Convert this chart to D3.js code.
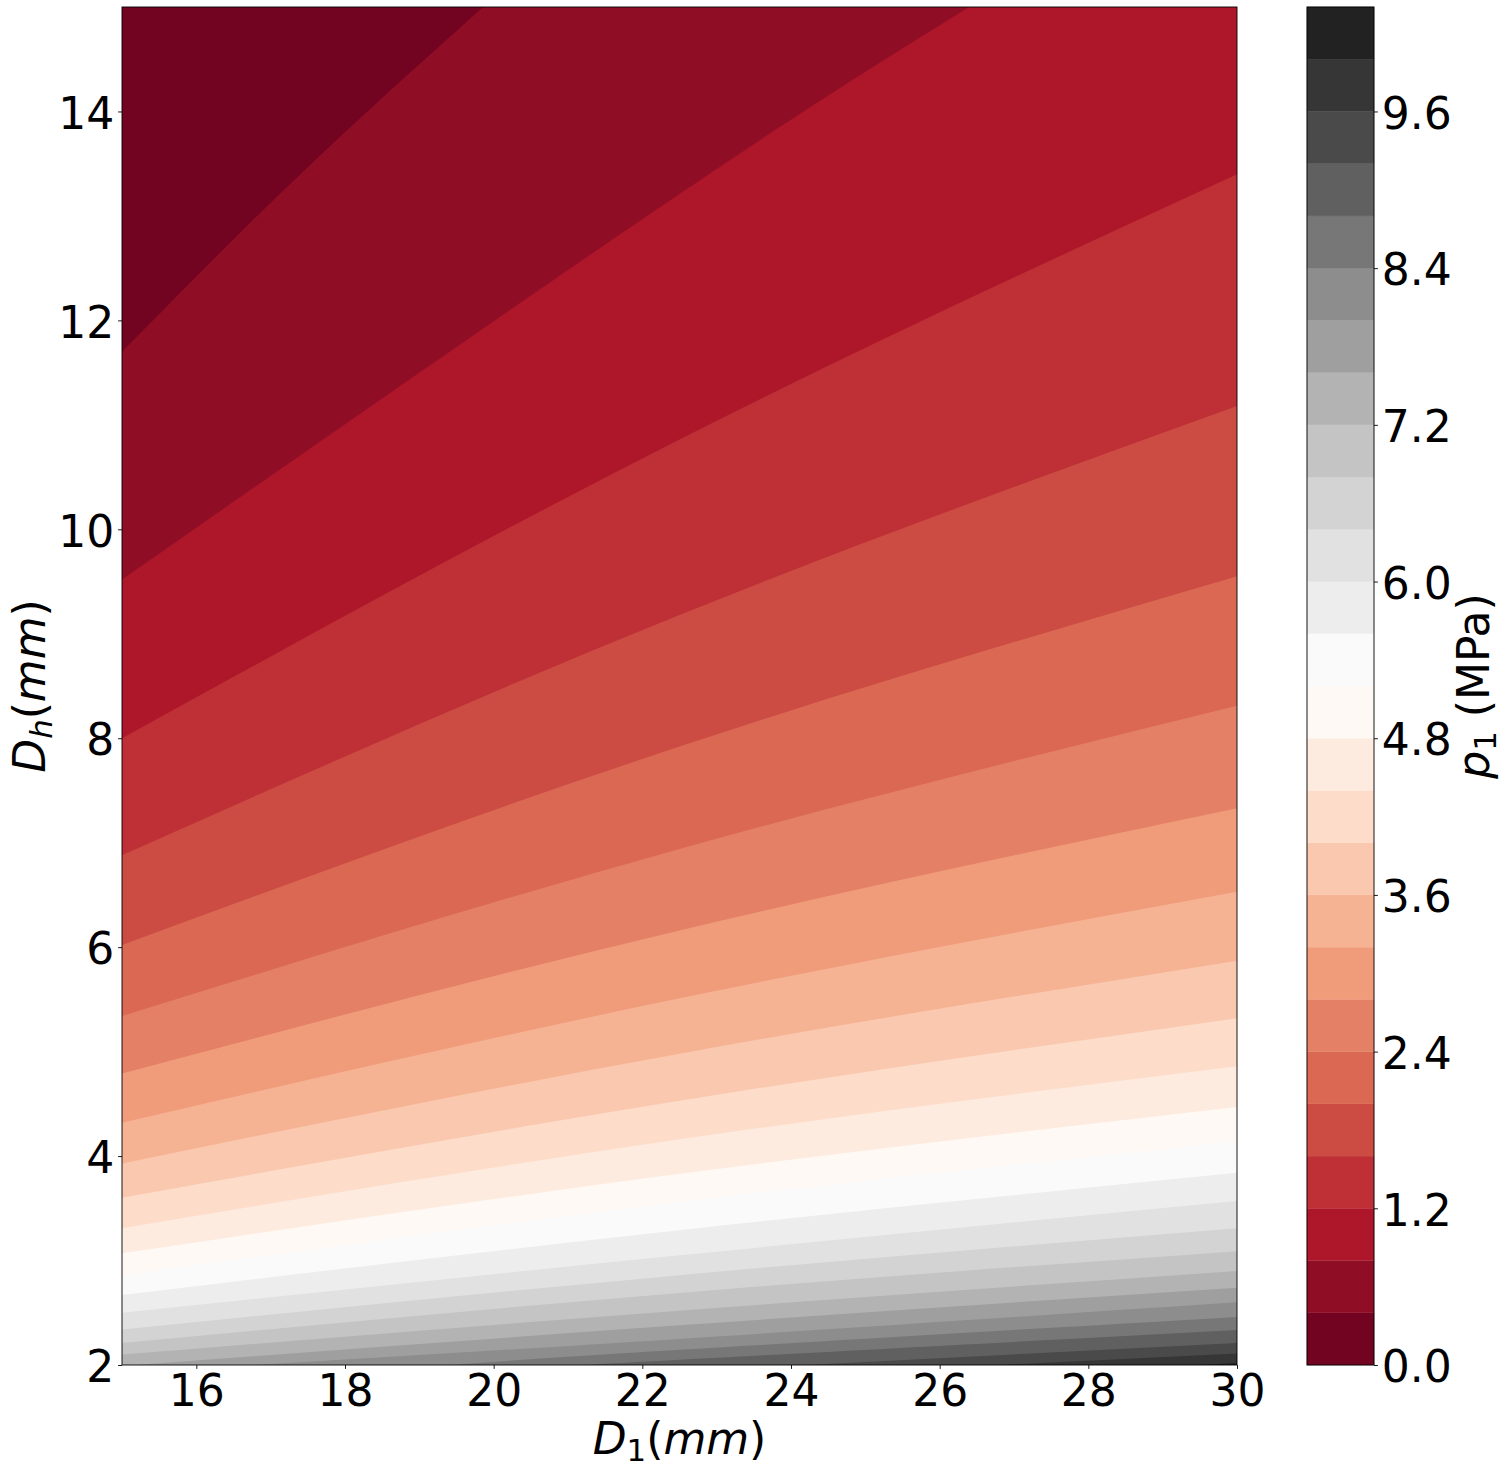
<!DOCTYPE html>
<html>
<head>
<meta charset="utf-8">
<title>p1 contour map</title>
<script src="https://cdn.jsdelivr.net/npm/d3@7"></script>
<style>
body, html {
  margin: 0;
  background: #fff;
}
svg text {
  font-family: "DejaVu Sans", sans-serif;
  fill: #000;
}
</style>
</head>
<body>
<svg id="chart" width="1511" height="1472"></svg>

<script>
// contour levels of p1 (MPa), 26 filled bands
var bandLevels = [0.0, 0.4, 0.8, 1.2, 1.6, 2.0, 2.4, 2.8, 3.2, 3.6, 4.0, 4.4, 4.8,
                  5.2, 5.6, 6.0, 6.4, 6.8, 7.2, 7.6, 8.0, 8.4, 8.8, 9.2, 9.6, 10.0, 10.4];

// boundary line of each inner level as (D1, Dh) points
var lineD1 = [
  [15, 17.4, 19.86],   // 0.4
  [15, 22.5, 26.4],    // 0.8
  [15, 22.5, 30],      // 1.2
  [15, 22.5, 30],      // 1.6
  [15, 22.5, 30],      // 2.0
  [15, 22.5, 30],      // 2.4
  [15, 22.5, 30],      // 2.8
  [15, 22.5, 30],      // 3.2
  [15, 22.5, 30],      // 3.6
  [15, 22.5, 30],      // 4.0
  [15, 22.5, 30],      // 4.4
  [15, 22.5, 30],      // 4.8
  [15, 22.5, 30],      // 5.2
  [15, 22.5, 30],      // 5.6
  [15, 22.5, 30],      // 6.0
  [15, 22.5, 30],      // 6.4
  [15, 22.5, 30],      // 6.8
  [15, 22.5, 30],      // 7.2
  [15, 22.5, 30],      // 7.6
  [16.8, 22.5, 30],    // 8.0
  [19.4, 22.5, 30],    // 8.4
  [21.3, 22.5, 30],    // 8.8
  [24.2, 30],          // 9.2
  [26.8, 30],          // 9.6
  [29.5, 30]           // 10.0
];
var lineDh = [
  [11.70, 13.40, 15],
  [9.52, 13.21, 15],
  [8.00, 10.86, 13.40],
  [6.88, 9.18, 11.18],
  [6.02, 7.92, 9.55],
  [5.34, 6.94, 8.31],
  [4.79, 6.16, 7.33],
  [4.32, 5.51, 6.53],
  [3.93, 4.98, 5.87],
  [3.60, 4.53, 5.32],
  [3.31, 4.16, 4.86],
  [3.07, 3.83, 4.47],
  [2.86, 3.56, 4.14],
  [2.67, 3.29, 3.84],
  [2.50, 3.05, 3.57],
  [2.34, 2.86, 3.31],
  [2.21, 2.69, 3.09],
  [2.10, 2.52, 2.90],
  [1.99, 2.38, 2.74],
  [2.00, 2.25, 2.60],
  [2.00, 2.145, 2.46],
  [2.00, 2.05, 2.335],
  [2.00, 2.21],
  [2.00, 2.11],
  [2.00, 2.02]
];

var xTicks = [16, 18, 20, 22, 24, 26, 28, 30];
var yTicks = [2, 4, 6, 8, 10, 12, 14];
var cbTicks = [0.0, 1.2, 2.4, 3.6, 4.8, 6.0, 7.2, 8.4, 9.6];

// matplotlib RdGy
var rdgy = ['#67001f', '#b2182b', '#d6604d', '#f4a582', '#fddbc7', '#ffffff',
            '#e0e0e0', '#bababa', '#878787', '#4d4d4d', '#1a1a1a'];

var fs = 44;
var plot = {left: 122, right: 1237, top: 7, bottom: 1365};
var cbar = {left: 1307, width: 67};

var svg = d3.select("#chart");

var x = d3.scaleLinear().domain([15, 30]).range([plot.left, plot.right]);
var y = d3.scaleLinear().domain([2, 15]).range([plot.bottom, plot.top]);
var cy = d3.scaleLinear().domain([bandLevels[0], bandLevels[bandLevels.length - 1]])
    .range([plot.bottom, plot.top]);

var cmap = d3.scaleLinear()
    .domain(d3.range(rdgy.length).map(function(i) { return i / (rdgy.length - 1); }))
    .range(rdgy)
    .interpolate(d3.interpolateRgb);
var norm = d3.scaleLinear().domain(d3.extent(bandLevels)).range([0, 1]);

function bandColor(i) {
  var v = norm((bandLevels[i] + bandLevels[i + 1]) / 2);
  v = Math.min(255, Math.floor(v * 256)) / 255;   // 256 entry lut like mpl
  return cmap(v);
}

svg.append("clipPath").attr("id", "clip")
  .append("rect")
    .attr("x", plot.left).attr("y", plot.top)
    .attr("width", plot.right - plot.left).attr("height", plot.bottom - plot.top);

var field = svg.append("g").attr("clip-path", "url(#clip)");

// highest band first, then paint the region above each level line (lower values)
field.append("rect")
    .attr("x", plot.left).attr("y", plot.top)
    .attr("width", plot.right - plot.left).attr("height", plot.bottom - plot.top)
    .attr("fill", bandColor(bandLevels.length - 2));

var curve = d3.line().curve(d3.curveNatural);

for (var k = lineD1.length - 1; k >= 0; k--) {
  var pts = lineD1[k].map(function(d, j) { return [x(d), y(lineDh[k][j])]; });
  var corners = [];
  if (lineD1[k][lineD1[k].length - 1] >= 30) corners.push([x(30), y(15)]);
  corners.push([x(15), y(15)]);
  if (lineD1[k][0] > 15) corners.push([x(15), y(2)]);
  var d = curve(pts) + corners.map(function(p) { return "L" + p[0] + "," + p[1]; }).join("") + "Z";
  field.append("path")
      .attr("d", d)
      .attr("fill", bandColor(k));
}

// frame
svg.append("rect")
    .attr("x", plot.left).attr("y", plot.top)
    .attr("width", plot.right - plot.left).attr("height", plot.bottom - plot.top)
    .attr("fill", "none").attr("stroke", "#000").attr("stroke-width", 0.9);

function styleAxis(g) {
  g.attr("font-family", null).attr("font-size", null);
  g.select(".domain").remove();
  g.selectAll(".tick line").attr("stroke", "#000").attr("stroke-width", 0.9);
  g.selectAll(".tick text").style("font-size", fs + "px");
}

var gx = svg.append("g")
    .attr("transform", "translate(0," + plot.bottom + ")")
    .call(d3.axisBottom(x).tickValues(xTicks).tickSize(3.9).tickFormat(d3.format("d")));
styleAxis(gx);
gx.selectAll(".tick text").attr("y", 41).attr("dy", null);

var gy = svg.append("g")
    .attr("transform", "translate(" + plot.left + ",0)")
    .call(d3.axisLeft(y).tickValues(yTicks).tickSize(3.9).tickFormat(d3.format("d")));
styleAxis(gy);
gy.selectAll(".tick text").attr("x", -7.8).attr("dy", "0.38em");

// colorbar
var cb = svg.append("g");
cb.selectAll("rect.band")
  .data(d3.range(bandLevels.length - 1))
  .enter().append("rect")
    .attr("class", "band")
    .attr("x", cbar.left)
    .attr("width", cbar.width)
    .attr("y", function(i) { return cy(bandLevels[i + 1]); })
    .attr("height", function(i) { return cy(bandLevels[i]) - cy(bandLevels[i + 1]); })
    .attr("fill", function(i) { return bandColor(i); })
    .attr("stroke", function(i) { return bandColor(i); })
    .attr("stroke-width", 0.3);
cb.append("rect")
    .attr("x", cbar.left).attr("y", plot.top)
    .attr("width", cbar.width).attr("height", plot.bottom - plot.top)
    .attr("fill", "none").attr("stroke", "#000").attr("stroke-width", 0.9);

var gc = svg.append("g")
    .attr("transform", "translate(" + (cbar.left + cbar.width) + ",0)")
    .call(d3.axisRight(cy).tickValues(cbTicks).tickSize(3.9).tickFormat(d3.format(".1f")));
styleAxis(gc);
gc.selectAll(".tick text").attr("x", 7.8).attr("dy", "0.38em");

// labels with mathtext-like pieces
function mathText(sel, parts) {
  var sub = 7;
  parts.forEach(function(p) {
    var t = sel.append("tspan").text(p.t);
    if (p.it) t.attr("font-style", "italic");
    if (p.sub) t.attr("font-size", (fs * 0.7) + "px").attr("dy", sub);
    if (p.up) t.attr("dy", -sub);
  });
}

var xl = svg.append("text")
    .attr("x", (plot.left + plot.right) / 2)
    .attr("y", 1454)
    .attr("text-anchor", "middle")
    .style("font-size", fs + "px");
mathText(xl, [{t: "D", it: true}, {t: "1", sub: true}, {t: "(", up: true},
              {t: "mm", it: true}, {t: ")"}]);

var yl = svg.append("text")
    .attr("transform", "translate(45," + ((plot.top + plot.bottom) / 2) + ") rotate(-90)")
    .attr("text-anchor", "middle")
    .style("font-size", fs + "px");
mathText(yl, [{t: "D", it: true}, {t: "h", it: true, sub: true}, {t: "(", up: true},
              {t: "mm", it: true}, {t: ")"}]);

var cl = svg.append("text")
    .attr("transform", "translate(1489," + ((plot.top + plot.bottom) / 2) + ") rotate(-90)")
    .attr("text-anchor", "middle")
    .style("font-size", fs + "px");
mathText(cl, [{t: "p", it: true}, {t: "1", sub: true}, {t: "\u00a0(MPa)", up: true}]);
</script>
</body>
</html>
